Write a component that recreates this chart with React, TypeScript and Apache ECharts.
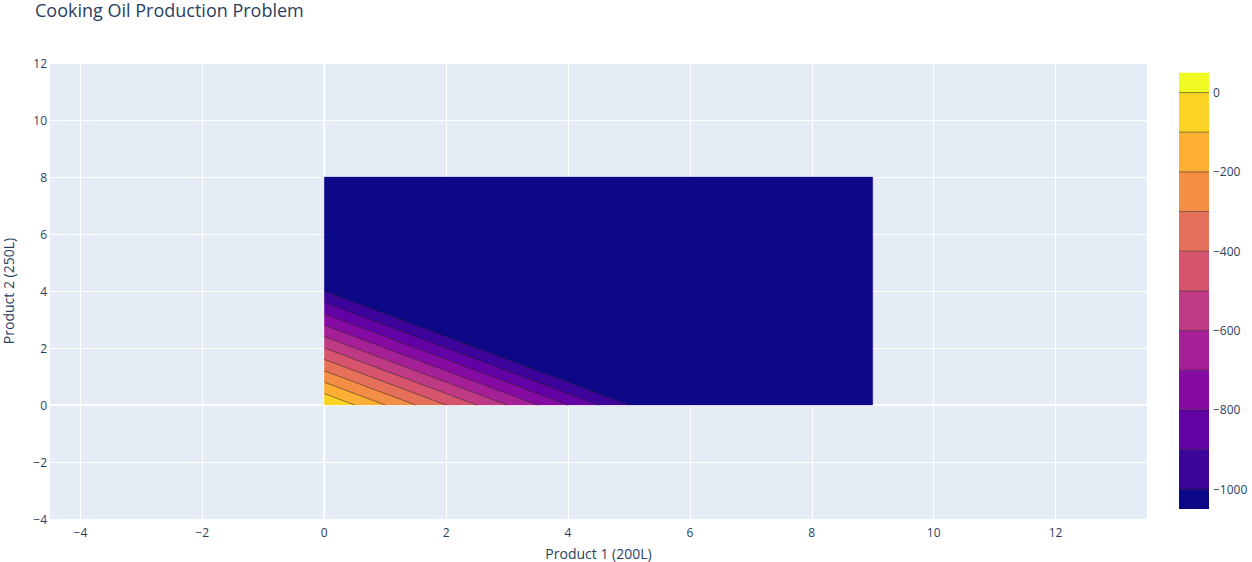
import React, { useEffect, useRef } from 'react';
import * as echarts from 'echarts';

const titleText = 'Cooking Oil Production Problem';
const xName = 'Product 1 (200L)';
const yName = 'Product 2 (250L)';
// feasible box and objective z = -(200 x1 + 250 x2)
const xDomain = [0, 9];
const yDomain = [0, 8];
const objCoef = [200, 250];
// contour levels
const levels = [-1000, -900, -800, -700, -600, -500, -400, -300, -200, -100, 0];
const colorbarRange = [-1050, 50];
const xRange = [-4.5, 13.5];
const yRange = [-4, 12];
const xTicks = [-4, -2, 0, 2, 4, 6, 8, 10, 12];
const cbTicks = [0, -200, -400, -600, -800, -1000];
// band colours, bottom (lowest) to top
const bandColors = [
  '#0d0887', '#3c049b', '#6202a5', '#850ba3', '#a52097', '#bf3a84',
  '#d6546d', '#e7705a', '#f58e45', '#fcaf33', '#fbd325', '#f0f921',
];

const TXT = '#2a3f5f';
const FONT = '"Open Sans", verdana, arial, sans-serif';
const minus = (v: number) => String(v).replace('-', '\u2212');

type Pt = [number, number];
const zOf = (p: Pt) => -(objCoef[0] * p[0] + objCoef[1] * p[1]);

function clip(poly: Pt[], g: (p: Pt) => number): Pt[] {
  const out: Pt[] = [];
  const n = poly.length;
  for (let i = 0; i < n; i++) {
    const a = poly[i];
    const b = poly[(i + 1) % n];
    const ga = g(a);
    const gb = g(b);
    if (ga >= 0) out.push(a);
    if ((ga >= 0) !== (gb >= 0)) {
      const t = ga / (ga - gb);
      out.push([a[0] + t * (b[0] - a[0]), a[1] + t * (b[1] - a[1])]);
    }
  }
  return out;
}

const rectPoly: Pt[] = [
  [xDomain[0], yDomain[0]],
  [xDomain[1], yDomain[0]],
  [xDomain[1], yDomain[1]],
  [xDomain[0], yDomain[1]],
];

const bands = bandColors.map((c, i) => ({
  lo: i === 0 ? -Infinity : levels[i - 1],
  hi: i === bandColors.length - 1 ? Infinity : levels[i],
  color: c,
}));

export default function App() {
  const ref = useRef<HTMLDivElement>(null);
  useEffect(() => {
    if (!ref.current) return;
    const chart = echarts.init(ref.current, undefined, { renderer: 'svg' });
    const option: any = {
      animation: false,
      backgroundColor: '#ffffff',
      title: {
        text: titleText,
        left: 35,
        top: 1,
        padding: 0,
        textStyle: { fontSize: 18, fontWeight: 'normal', color: TXT, fontFamily: FONT },
      },
      grid: [
        { left: 50, right: 105, top: 63, bottom: 43, show: true, backgroundColor: '#E5ECF6', borderWidth: 0, containLabel: false, outerBoundsMode: 'none' },
        { left: 1179, width: 30, top: 72.7, height: 436.3, show: false, containLabel: false, outerBoundsMode: 'none' },
      ],
      xAxis: [
        {
          gridIndex: 0,
          type: 'value',
          min: xRange[0],
          max: xRange[1],
          name: xName,
          nameLocation: 'middle',
          nameGap: 27,
          nameTextStyle: { fontSize: 14, color: TXT, fontFamily: FONT },
          axisLine: { show: false },
          axisTick: { show: false, customValues: xTicks },
          axisLabel: { customValues: xTicks, formatter: minus, color: TXT, fontSize: 12, fontFamily: FONT, margin: 7 },
          splitLine: { show: true, lineStyle: { color: '#ffffff', width: 1 } },
        },
        { gridIndex: 1, type: 'value', min: 0, max: 1, show: false },
      ],
      yAxis: [
        {
          gridIndex: 0,
          type: 'value',
          min: yRange[0],
          max: yRange[1],
          interval: 2,
          name: yName,
          nameLocation: 'middle',
          nameGap: 35,
          nameTextStyle: { fontSize: 14, color: TXT, fontFamily: FONT },
          axisLine: { show: false },
          axisTick: { show: false },
          axisLabel: { formatter: minus, color: TXT, fontSize: 12, fontFamily: FONT, margin: 3 },
          splitLine: { show: true, lineStyle: { color: '#ffffff', width: 1 } },
        },
        {
          gridIndex: 1,
          type: 'value',
          min: colorbarRange[0],
          max: colorbarRange[1],
          position: 'right',
          axisLine: { show: false },
          axisTick: { show: false, customValues: cbTicks },
          axisLabel: { customValues: cbTicks, formatter: minus, color: TXT, fontSize: 12, fontFamily: FONT, margin: 4 },
          splitLine: { show: false },
        },
      ],
      series: [
        {
          type: 'custom',
          name: 'zerolines',
          xAxisIndex: 0,
          yAxisIndex: 0,
          z: 1,
          silent: true,
          data: [[0, 0]],
          renderItem: (params: any, api: any) => {
            const cs = params.coordSys;
            const o = api.coord([0, 0]);
            return {
              type: 'group',
              children: [
                { type: 'line', shape: { x1: o[0], y1: cs.y, x2: o[0], y2: cs.y + cs.height }, style: { stroke: '#ffffff', lineWidth: 2 } },
                { type: 'line', shape: { x1: cs.x, y1: o[1], x2: cs.x + cs.width, y2: o[1] }, style: { stroke: '#ffffff', lineWidth: 2 } },
              ],
            };
          },
        },
        {
          type: 'custom',
          name: 'contour',
          xAxisIndex: 0,
          yAxisIndex: 0,
          z: 2,
          clip: true,
          silent: true,
          data: bands.map((_, i) => [i]),
          renderItem: (params: any, api: any) => {
            const b = bands[api.value(0)];
            let poly = rectPoly.slice();
            if (isFinite(b.lo)) poly = clip(poly, (p) => zOf(p) - b.lo);
            if (isFinite(b.hi)) poly = clip(poly, (p) => b.hi - zOf(p));
            if (poly.length < 3) return null;
            const pts = poly.map((p) => api.coord(p));
            return { type: 'polygon', shape: { points: pts }, style: { fill: b.color, stroke: b.color, lineWidth: 0.3 } };
          },
        },
        {
          type: 'custom',
          name: 'contourlines',
          xAxisIndex: 0,
          yAxisIndex: 0,
          z: 3,
          clip: true,
          silent: true,
          data: levels.map((_, i) => [i]),
          renderItem: (params: any, api: any) => {
            const L = levels[api.value(0)];
            const pts: Pt[] = [];
            const n = rectPoly.length;
            for (let i = 0; i < n; i++) {
              const a = rectPoly[i];
              const c = rectPoly[(i + 1) % n];
              const ga = zOf(a) - L;
              const gc = zOf(c) - L;
              if (ga === 0) pts.push(a);
              else if (ga * gc < 0) {
                const t = ga / (ga - gc);
                pts.push([a[0] + t * (c[0] - a[0]), a[1] + t * (c[1] - a[1])]);
              }
            }
            if (pts.length < 2) return null;
            const p1 = api.coord(pts[0]);
            const p2 = api.coord(pts[1]);
            if (Math.abs(p1[0] - p2[0]) < 0.5 && Math.abs(p1[1] - p2[1]) < 0.5) return null;
            return { type: 'line', shape: { x1: p1[0], y1: p1[1], x2: p2[0], y2: p2[1] }, style: { stroke: 'rgba(0,0,0,0.55)', lineWidth: 0.8 } };
          },
        },
        {
          type: 'custom',
          name: 'colorbar',
          xAxisIndex: 1,
          yAxisIndex: 1,
          silent: true,
          data: bands.map((_, i) => [i]),
          renderItem: (params: any, api: any) => {
            const b = bands[api.value(0)];
            const lo = Math.max(b.lo, colorbarRange[0]);
            const hi = Math.min(b.hi, colorbarRange[1]);
            const p1 = api.coord([0, hi]);
            const p2 = api.coord([1, lo]);
            return { type: 'rect', shape: { x: p1[0], y: p1[1], width: p2[0] - p1[0], height: p2[1] - p1[1] }, style: { fill: b.color } };
          },
        },
        {
          type: 'custom',
          name: 'colorbarlines',
          xAxisIndex: 1,
          yAxisIndex: 1,
          z: 3,
          silent: true,
          data: levels.map((_, i) => [i]),
          renderItem: (params: any, api: any) => {
            const L = levels[api.value(0)];
            const p1 = api.coord([0, L]);
            const p2 = api.coord([1, L]);
            return { type: 'line', shape: { x1: p1[0], y1: p1[1], x2: p2[0], y2: p2[1] }, style: { stroke: 'rgba(0,0,0,0.45)', lineWidth: 1 } };
          },
        },
      ],
    };
    chart.setOption(option);
    return () => chart.dispose();
  }, []);
  return <div ref={ref} style={{ position: 'fixed', left: 0, top: 0, width: 1252, height: 562 }} />;
}
